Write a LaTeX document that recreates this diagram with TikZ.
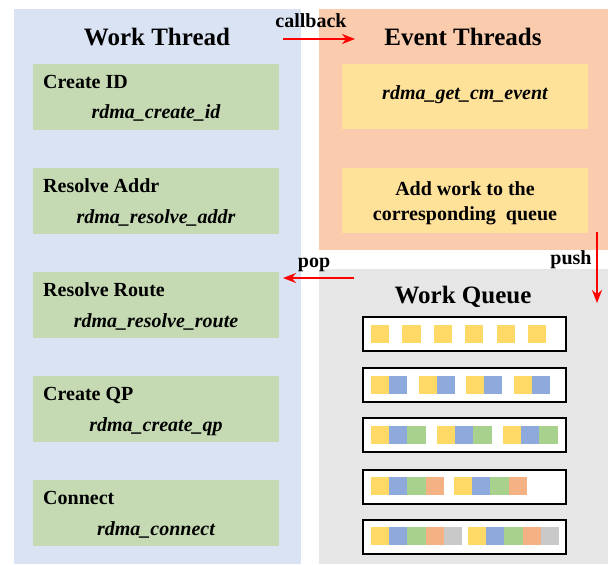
\documentclass[tikz,border=0pt]{standalone}
\usepackage{fontspec}
\setmainfont{Liberation Serif}
\usetikzlibrary{arrows.meta}

\definecolor{workbg}{HTML}{DAE3F3}
\definecolor{eventbg}{HTML}{FACBAD}
\definecolor{queuebg}{HTML}{E7E6E6}
\definecolor{stepgreen}{HTML}{C5DAB3}
\definecolor{eventbox}{HTML}{FFE29A}
\definecolor{cY}{HTML}{FFD966}
\definecolor{cB}{HTML}{8EA9DB}
\definecolor{cG}{HTML}{A9D18E}
\definecolor{cO}{HTML}{F4B183}
\definecolor{cK}{HTML}{C9C9C9}

% one group of coloured work items, drawn left to right
\newcommand\workgroup[3]{%
  \foreach \c [count=\i from 0] in {#3}
    {\fill[\c] ({#1+\i*18.2},#2) rectangle ++(18.2,18.2);}%
}

\tikzset{
  panel/.style={anchor=north west, inner sep=0pt, outer sep=0pt, draw=none},
  stepbox/.style={panel, fill=stepgreen, minimum width=246pt, minimum height=66pt},
  evbox/.style={panel, fill=eventbox, minimum width=246pt, minimum height=65pt},
  qrow/.style={panel, fill=white, draw=black, line width=2.2pt, minimum width=203pt, minimum height=34pt},
  title/.style={anchor=base, inner sep=0pt, font=\fontsize{25}{30}\selectfont\bfseries},
  label/.style={inner sep=0pt, font=\fontsize{20}{25}\selectfont\bfseries},
  fname/.style={anchor=base, inner sep=0pt, font=\fontsize{20}{25}\selectfont\bfseries\itshape},
  flow/.style={red, line width=2.8pt, -{Stealth[length=13pt,width=10pt]}},
}

\begin{document}
\begin{tikzpicture}[x=1pt, y=-1pt]
\useasboundingbox (0,0) rectangle (609,564);

% panels
\node[panel, fill=workbg, minimum width=287pt, minimum height=555pt] (work) at (14,9) {};
\node[panel, fill=eventbg, minimum width=289pt, minimum height=241pt] (event) at (319,9) {};
\node[panel, fill=queuebg, minimum width=289pt, minimum height=295pt] (queue) at (319,269) {};

\node[title] (worktitle) at (157,46) {Work Thread};
\node[title] (eventtitle) at (463,46) {Event Threads};
\node[title] (queuetitle) at (463,303) {Work Queue};

% connection steps of the work thread
\foreach \n/\t/\s/\f in {
    cid/64/Create ID/rdma\_create\_id,
    raddr/168/Resolve Addr/rdma\_resolve\_addr,
    rroute/272/Resolve Route/rdma\_resolve\_route,
    cqp/376/Create QP/rdma\_create\_qp,
    conn/480/Connect/rdma\_connect} {
  \node[stepbox] (\n) at (33,\t) {};
  \node[label, anchor=base west] (\n-step) at (43,\t+24.5) {\s};
  \node[fname] (\n-fn) at (156,\t+55) {\f};
}

% event thread boxes
\node[evbox] (getev) at (342,64) {};
\node[fname] (getev-fn) at (465,100) {rdma\_get\_cm\_event};
\node[evbox] (addwork) at (342,168) {};
\node[label, anchor=base] (addwork-l1) at (465,195) {Add work to the};
\node[label, anchor=base] (addwork-l2) at (465,220) {corresponding\ \ queue};

% arrows between the threads
\coordinate (cbA) at (283,39);
\coordinate (cbB) at (355,39);
\draw[flow] (cbA) -- (cbB);
\node[label, anchor=base] (cblabel) at (311,28) {callback};

\coordinate (popA) at (354,278);
\coordinate (popB) at (283,278);
\draw[flow] (popA) -- (popB);
\node[label, anchor=base] (poplabel) at (314,267) {pop};

\coordinate (pushA) at (597,232);
\coordinate (pushB) at (597,303);
\draw[flow] (pushA) -- (pushB);
\node[label, anchor=base] (pushlabel) at (571,264) {push};

% queue rows
\foreach \n/\t in {q1/317, q2/368, q3/418, q4/470, q5/520}
  {\node[qrow] (\n) at (363,\t) {};}

\foreach \x in {371,402.4,433.8,465.2,496.6,528}
  {\workgroup{\x}{325}{cY}}
\foreach \x in {371,419,466,514}
  {\workgroup{\x}{376}{cY,cB}}
\foreach \x in {371,437,503}
  {\workgroup{\x}{426}{cY,cB,cG}}
\foreach \x in {371,454}
  {\workgroup{\x}{477}{cY,cB,cG,cO}}
\foreach \x in {371,468}
  {\workgroup{\x}{527}{cY,cB,cG,cO,cK}}
\end{tikzpicture}
\end{document}
